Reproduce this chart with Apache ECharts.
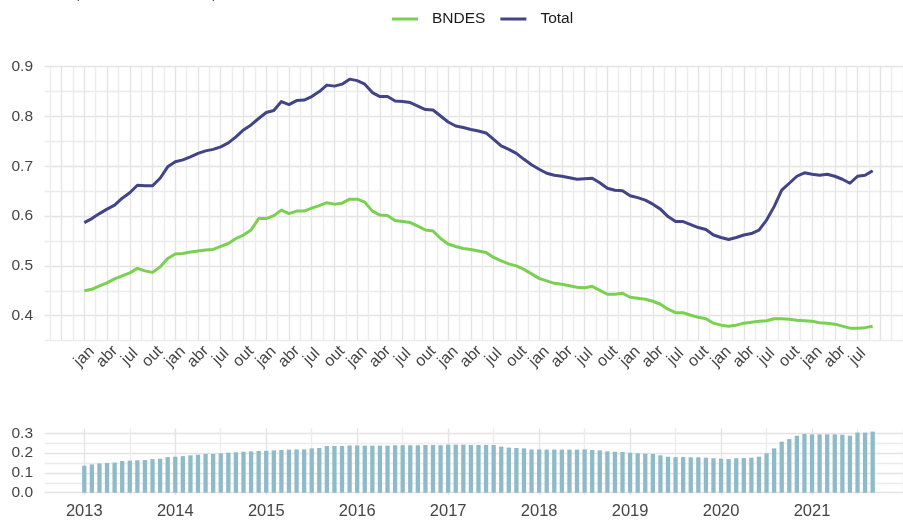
<!DOCTYPE html>
<html>
<head>
<meta charset="utf-8">
<script src="https://cdn.jsdelivr.net/npm/echarts@6/dist/echarts.min.js"></script>
<style>
  html, body { margin: 0; padding: 0; background: #ffffff; }
  #chart { width: 903px; height: 521px; }
</style>
</head>
<body>
<div id="chart"></div>
<script>
// monthly series, jan 2013 .. set 2021 (index 0 = jan 2013)
const monthAbbr = ['jan', 'fev', 'mar', 'abr', 'mai', 'jun', 'jul', 'ago', 'set', 'out', 'nov', 'dez'];
const years = ['2013', '2014', '2015', '2016', '2017', '2018', '2019', '2020', '2021'];

const bndes = [
  0.450, 0.453, 0.460, 0.466, 0.474, 0.480, 0.486, 0.495, 0.490, 0.487, 0.498, 0.515,
  0.524, 0.525, 0.528, 0.530, 0.532, 0.533, 0.539, 0.545, 0.555, 0.562, 0.572, 0.595,
  0.595, 0.601, 0.612, 0.605, 0.610, 0.610, 0.616, 0.621, 0.627, 0.624, 0.626, 0.634,
  0.634, 0.628, 0.610, 0.602, 0.601, 0.591, 0.589, 0.587, 0.580, 0.572, 0.570, 0.555,
  0.544, 0.539, 0.535, 0.533, 0.530, 0.527, 0.517, 0.510, 0.504, 0.500, 0.493, 0.484,
  0.475, 0.470, 0.465, 0.463, 0.460, 0.457, 0.456, 0.459, 0.451, 0.443, 0.443, 0.445,
  0.437, 0.435, 0.433, 0.429, 0.423, 0.413, 0.406, 0.406, 0.401, 0.397, 0.394, 0.385,
  0.381, 0.379, 0.381, 0.385, 0.387, 0.389, 0.390, 0.394, 0.394, 0.393, 0.391, 0.390,
  0.389, 0.386, 0.385, 0.383, 0.379, 0.375, 0.375, 0.376, 0.379
];

const total = [
  0.587, 0.595, 0.605, 0.614, 0.622, 0.636, 0.647, 0.662, 0.661, 0.661, 0.676, 0.699,
  0.709, 0.713, 0.719, 0.726, 0.731, 0.734, 0.739, 0.747, 0.759, 0.773, 0.783, 0.796,
  0.808, 0.812, 0.830, 0.824, 0.832, 0.833, 0.840, 0.850, 0.863, 0.861, 0.865, 0.875,
  0.872, 0.865, 0.848, 0.840, 0.840, 0.831, 0.830, 0.828, 0.821, 0.814, 0.813, 0.801,
  0.789, 0.781, 0.778, 0.774, 0.771, 0.767, 0.754, 0.741, 0.734, 0.726, 0.714, 0.703,
  0.694, 0.686, 0.682, 0.680, 0.677, 0.674, 0.675, 0.676, 0.667, 0.656, 0.652, 0.651,
  0.641, 0.637, 0.632, 0.624, 0.614, 0.599, 0.589, 0.589, 0.583, 0.577, 0.573, 0.562,
  0.557, 0.553, 0.557, 0.562, 0.565, 0.572, 0.592, 0.619, 0.652, 0.666, 0.680, 0.687,
  0.684, 0.682, 0.684, 0.680, 0.674, 0.666, 0.680, 0.682, 0.691
];

const diffBars = [
  0.137, 0.143, 0.148, 0.150, 0.152, 0.160, 0.162, 0.164, 0.165, 0.170, 0.172, 0.180,
  0.182, 0.185, 0.189, 0.192, 0.196, 0.196, 0.199, 0.202, 0.204, 0.207, 0.209, 0.211,
  0.212, 0.214, 0.216, 0.218, 0.219, 0.219, 0.224, 0.226, 0.236, 0.236, 0.236, 0.239,
  0.239, 0.238, 0.238, 0.238, 0.238, 0.240, 0.240, 0.240, 0.240, 0.241, 0.241, 0.240,
  0.243, 0.243, 0.243, 0.241, 0.241, 0.241, 0.241, 0.233, 0.228, 0.226, 0.224, 0.219,
  0.219, 0.218, 0.218, 0.218, 0.218, 0.218, 0.219, 0.216, 0.214, 0.209, 0.207, 0.206,
  0.202, 0.199, 0.197, 0.196, 0.189, 0.182, 0.180, 0.180, 0.179, 0.179, 0.177, 0.174,
  0.172, 0.170, 0.174, 0.175, 0.177, 0.182, 0.199, 0.224, 0.258, 0.271, 0.288, 0.297,
  0.295, 0.295, 0.295, 0.295, 0.293, 0.288, 0.304, 0.304, 0.309
];

const T = 'rgba(0,0,0,0)';
const MAJ = '#e4e4e4';
const MIN = '#ececec';
const AXIS_TXT = '#454545';
const FONT = "'Liberation Sans', Arial, sans-serif";

function isInt(v) { return Math.abs(v - Math.round(v)) < 1e-6; }

const chart = echarts.init(document.getElementById('chart'), null, { renderer: 'canvas' });

const xBase = {
  type: 'value',
  min: -5.25,
  max: 108,
  interval: 0.75,
  axisLine: { show: false },
  axisTick: { show: false }
};

const option = {
  animation: false,
  textStyle: { fontFamily: FONT },
  legend: {
    data: ['BNDES', 'Total'],
    top: 6,
    left: 387,
    icon: 'rect',
    itemWidth: 26,
    itemHeight: 3,
    itemGap: 15,
    textStyle: { fontFamily: FONT, fontSize: 15.5, color: '#1a1a1a', padding: [0, 0, 0, 9] }
  },
  graphic: [{
    type: 'text',
    left: 75,
    top: -12,
    style: { text: '(em R$ bi, valores reais)', font: "13px 'Liberation Sans', Arial, sans-serif", fill: '#333333' }
  }],
  grid: [
    { left: 44.5, right: 0, top: 66.7, bottom: 180.4, outerBoundsMode: 'none' },
    { left: 44.5, right: 0, top: 428.4, bottom: 25.8, outerBoundsMode: 'none' }
  ],
  xAxis: [
    Object.assign({}, xBase, {
      gridIndex: 0,
      splitLine: { show: true, lineStyle: { color: [T, MIN, T, MAJ], width: 1.4 } },
      axisLabel: {
        rotate: 45,
        align: 'center',
        verticalAlign: 'middle',
        margin: 16,
        fontFamily: FONT,
        fontSize: 16,
        color: AXIS_TXT,
        formatter: function (v) {
          if (!isInt(v)) return '';
          const m = Math.round(v);
          if (m < 0 || m > 102 || m % 3 !== 0) return '';
          return monthAbbr[m % 12];
        }
      }
    }),
    Object.assign({}, xBase, {
      gridIndex: 1,
      splitLine: {
        show: true,
        lineStyle: {
          color: [T, T, T, T, T, T, T, MAJ, T, T, T, T, T, T, T, MIN],
          width: 1.4
        }
      },
      axisLabel: {
        margin: 8,
        fontFamily: FONT,
        fontSize: 16.5,
        color: AXIS_TXT,
        formatter: function (v) {
          if (!isInt(v)) return '';
          const m = Math.round(v);
          if (m < 0 || m % 12 !== 0) return '';
          return years[m / 12] || '';
        }
      }
    })
  ],
  yAxis: [
    {
      gridIndex: 0,
      type: 'value',
      min: 0.35,
      max: 0.9,
      interval: 0.05,
      axisLine: { show: false },
      axisTick: { show: false },
      splitLine: { show: true, lineStyle: { color: [MIN, MAJ], width: 1.4 } },
      axisLabel: {
        margin: 11.5,
        fontFamily: FONT,
        fontSize: 15.5,
        color: AXIS_TXT,
        formatter: function (v) { return isInt(v * 10) ? v.toFixed(1) : ''; }
      }
    },
    {
      gridIndex: 1,
      type: 'value',
      min: -0.0125,
      max: 0.325,
      interval: 0.0125,
      axisLine: { show: false },
      axisTick: { show: false },
      splitLine: { show: true, lineStyle: { color: [T, MAJ, T, T, T, MIN, T, T], width: 1.4 } },
      axisLabel: {
        margin: 11.5,
        fontFamily: FONT,
        fontSize: 15.5,
        color: AXIS_TXT,
        formatter: function (v) {
          if (v < -1e-9 || v > 0.3 + 1e-9) return '';
          return isInt(v * 10) ? Math.abs(v).toFixed(1) : '';
        }
      }
    }
  ],
  series: [
    {
      name: 'BNDES',
      type: 'line',
      xAxisIndex: 0,
      yAxisIndex: 0,
      showSymbol: false,
      color: '#7ad151',
      lineStyle: { width: 3, join: 'round' },
      data: bndes.map(function (v, i) { return [i, v]; })
    },
    {
      name: 'Total',
      type: 'line',
      xAxisIndex: 0,
      yAxisIndex: 0,
      showSymbol: false,
      color: '#414487',
      lineStyle: { width: 3, join: 'round' },
      data: total.map(function (v, i) { return [i, v]; })
    },
    {
      name: 'diff',
      type: 'bar',
      xAxisIndex: 1,
      yAxisIndex: 1,
      barWidth: 4.3,
      itemStyle: { color: '#8fbbc8' },
      data: diffBars.map(function (v, i) { return [i, v]; })
    }
  ]
};

chart.setOption(option);
</script>
</body>
</html>
